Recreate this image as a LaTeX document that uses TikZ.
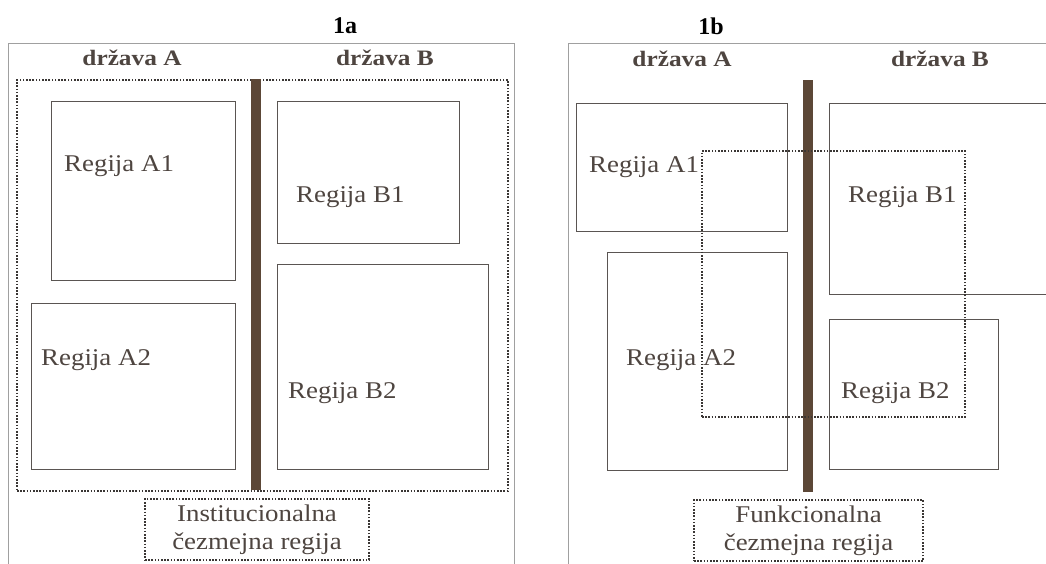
\documentclass[tikz,border=0pt]{standalone}
\usepackage{fontspec}
\setmainfont{Liberation Serif}
\begin{document}
\begin{tikzpicture}[x=1pt,y=-1pt,
  txt/.style={text=txtc, font=\fontsize{24}{26}\selectfont\addfontfeature{FakeStretch=1.12}, inner sep=0pt},
  head/.style={text=txtc, font=\fontsize{22}{24}\selectfont\bfseries\addfontfeature{FakeStretch=1.15}, inner sep=0pt},
  ttl/.style={text=black, font=\fontsize{24}{26}\selectfont\bfseries, inner sep=0pt},
  regbox/.style={draw=boxc, line width=1.1pt, anchor=north west, inner sep=0pt},
  dotbox/.style={draw=dotc, line width=2pt, dash pattern=on 1.6pt off 1.6pt, anchor=north west, inner sep=0pt},
  frame/.style={draw=framec, line width=1pt},
  bar/.style={fill=barc, draw=none, anchor=north west, inner sep=0pt}]
\definecolor{txtc}{HTML}{4E4540}
\definecolor{boxc}{HTML}{5A5552}
\definecolor{dotc}{HTML}{3A3634}
\definecolor{framec}{HTML}{A0A0A0}
\definecolor{barc}{HTML}{5C4737}
\useasboundingbox (0,0) rectangle (1046,563);
\fill[white] (0,0) rectangle (1046,563);
\clip (0,0) rectangle (1046,563);
% ---------- panel 1a ----------
\coordinate (fa1) at (8,570);
\coordinate (fa2) at (8,43);
\coordinate (fa3) at (514,43);
\coordinate (fa4) at (514,570);
\draw[frame] (fa1) -- (fa2) -- (fa3) -- (fa4);
\node[ttl] (t1a) at (345,26) {1a};
\node[head] (hA1) at (132,58) {država A};
\node[head] (hB1) at (385,58) {država B};
\node[dotbox, minimum width=491pt, minimum height=411pt] (inst) at (16,79) {};
\node[bar, minimum width=10pt, minimum height=411pt] (bar1) at (251,79) {};
\node[regbox, minimum width=184pt, minimum height=179pt] (a1) at (51,101) {};
\node[txt, anchor=west] (la1) at (64,166) {Regija A1};
\node[regbox, minimum width=204pt, minimum height=166pt] (a2) at (31,303) {};
\node[txt, anchor=west] (la2) at (41,360) {Regija A2};
\node[regbox, minimum width=182pt, minimum height=142pt] (b1) at (277,101) {};
\node[txt, anchor=west] (lb1) at (296,197) {Regija B1};
\node[regbox, minimum width=211pt, minimum height=205pt] (b2) at (277,264) {};
\node[txt, anchor=west] (lb2) at (288,393) {Regija B2};
\node[dotbox, minimum width=224pt, minimum height=61pt] (ib) at (144,498) {};
\node[txt, align=center] (il) at (ib.center) {Institucionalna\\[2pt]čezmejna regija};
% ---------- panel 1b ----------
\coordinate (fb1) at (568,570);
\coordinate (fb2) at (568,43);
\coordinate (fb3) at (1060,43);
\draw[frame] (fb1) -- (fb2) -- (fb3);
\node[ttl] (t1b) at (711,26) {1b};
\node[head] (hA2) at (682,59) {država A};
\node[head] (hB2) at (940,59) {država B};
\node[regbox, minimum width=211pt, minimum height=128pt] (c1) at (576,103) {};
\node[txt, anchor=west] (lc1) at (589,167) {Regija A1};
\node[regbox, minimum width=180pt, minimum height=218pt] (c2) at (607,252) {};
\node[txt, anchor=west] (lc2) at (626,360) {Regija A2};
\node[regbox, minimum width=230pt, minimum height=191pt] (d1) at (829,103) {};
\node[txt, anchor=west] (ld1) at (848,197) {Regija B1};
\node[regbox, minimum width=169pt, minimum height=150pt] (d2) at (829,319) {};
\node[txt, anchor=west] (ld2) at (841,393) {Regija B2};
\node[bar, minimum width=10pt, minimum height=412pt] (bar2) at (803,80) {};
\node[dotbox, minimum width=263pt, minimum height=266pt] (func) at (701,150) {};
\node[dotbox, minimum width=229pt, minimum height=61pt] (fb) at (693,499) {};
\node[txt, align=center] (fl) at (fb.center) {Funkcionalna\\[2pt]čezmejna regija};
\end{tikzpicture}
\end{document}
